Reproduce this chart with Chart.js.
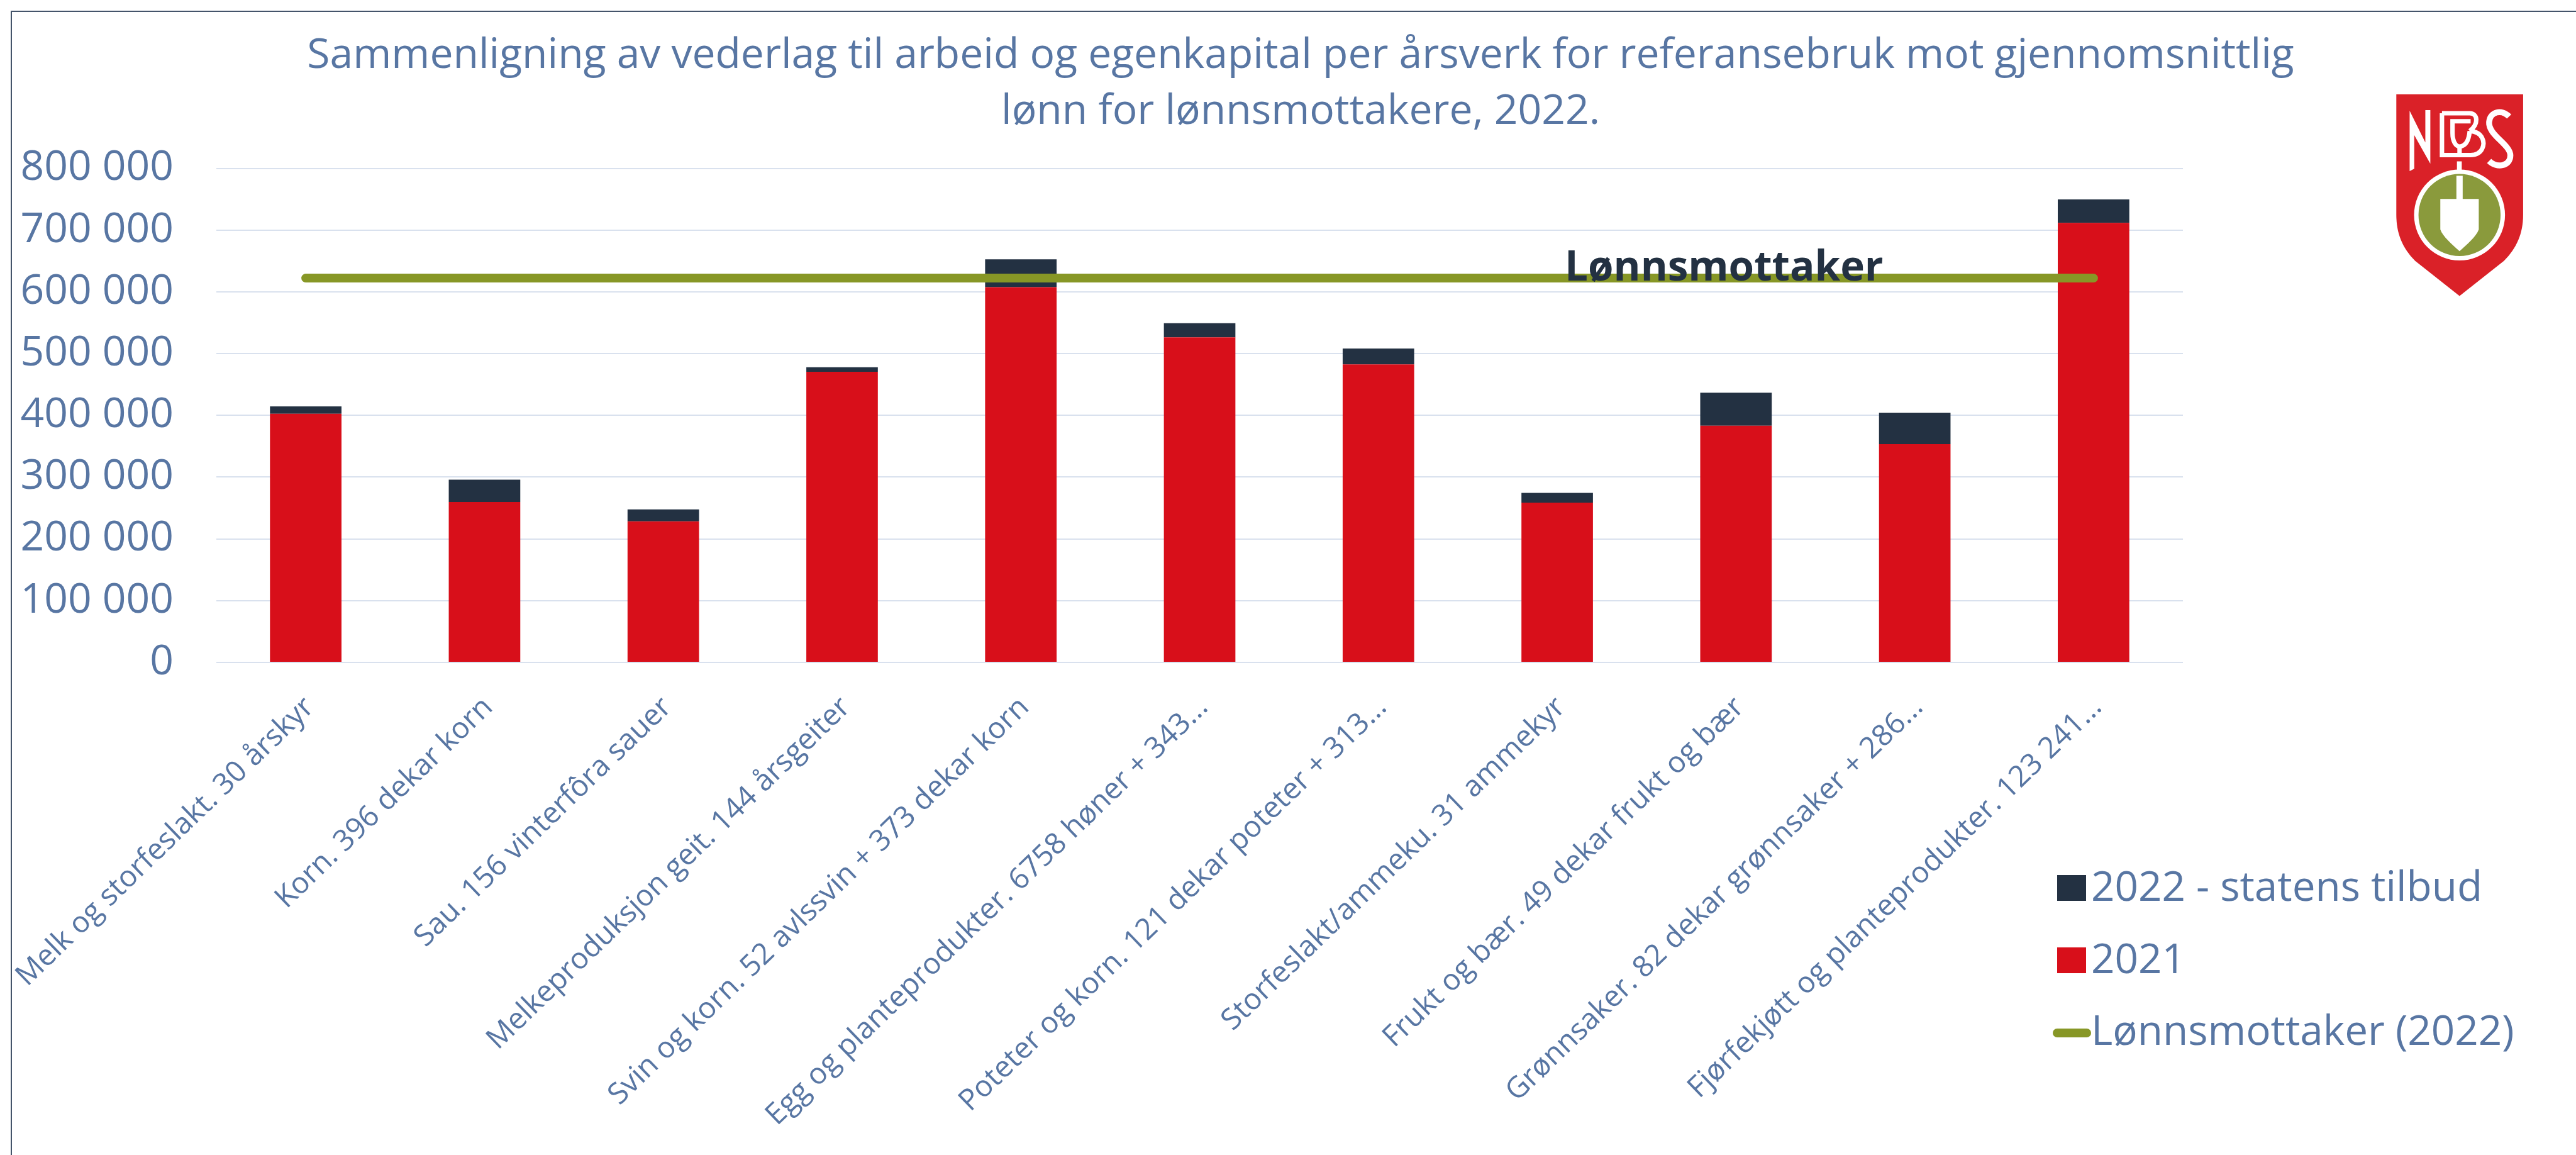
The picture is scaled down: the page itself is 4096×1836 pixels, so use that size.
<!DOCTYPE html>
<html>
<head>
<meta charset="utf-8">
<title>Vederlag per årsverk</title>
<script src="https://cdn.jsdelivr.net/npm/chart.js@4"></script>
<style>
    html, body { margin: 0; padding: 0; background: #fff; overflow: hidden; }
    #wrap { position: relative; width: 4096px; height: 1836px; }
    #frameTop { position: absolute; left: 17px; top: 17px; right: 0; height: 2px; background: #44546a; }
    #frameLeft { position: absolute; left: 17px; top: 17px; bottom: 0; width: 2px; background: #44546a; }
    #logo { position: absolute; left: 3708px; top: 88px; width: 388px; height: 424px; }
    canvas { position: absolute; left: 0; top: 0; }
</style>
</head>
<body>
<div id="wrap">
    <canvas id="chart" width="4096" height="1836"></canvas>
    <div id="frameTop"></div>
    <div id="frameLeft"></div>
    <svg id="logo" viewBox="0 0 1320 1440">
        <path d="M348 210 H1034 V860 C1034 960 1000 1040 930 1110 L690 1300 L450 1110 C380 1040 348 960 348 860 Z" fill="#da2128"/>
        <circle cx="690" cy="862" r="246" fill="#fff"/>
        <circle cx="690" cy="862" r="222" fill="#8a9a3c"/>
        <rect x="676" y="572" width="26" height="60" fill="#fff"/>
        <rect x="673" y="650" width="34" height="130" fill="#fff"/>
        <path d="M586 775 H794 V940 C780 980 730 1020 690 1058 C650 1020 600 980 586 940 Z" fill="#fff"/>
        <path d="M420 298 L505 470 V295 H532 V585 L445 430 V612 L420 625 Z" fill="#fff"/>
        <g fill="none" stroke="#fff" stroke-width="24">
            <path d="M595 312 V538 H750 C815 538 830 480 812 445 C800 420 775 410 745 408"/>
            <path d="M595 312 H745 C790 312 795 370 745 408"/>
            <path d="M750 355 H652 V420 C652 465 670 490 690 492 C720 490 740 465 745 408"/>
            <path d="M690 492 V538"/>
        </g>
        <path d="M958 330 C920 290 855 300 850 360 C845 430 965 480 965 540 C965 600 890 610 850 570" fill="none" stroke="#fff" stroke-width="32"/>
    </svg>
</div>

<script>
    var titleLines = [
        "Sammenligning av vederlag til arbeid og egenkapital per årsverk for referansebruk mot gjennomsnittlig",
        "lønn for lønnsmottakere, 2022."
    ];
    var categories = [
        "Melk og storfeslakt. 30 årskyr",
        "Korn. 396 dekar korn",
        "Sau. 156 vinterfôra sauer",
        "Melkeproduksjon geit. 144 årsgeiter",
        "Svin og korn. 52 avlssvin + 373 dekar korn",
        "Egg og planteprodukter. 6758 høner + 343...",
        "Poteter og korn. 121 dekar poteter + 313...",
        "Storfeslakt/ammeku. 31 ammekyr",
        "Frukt og bær. 49 dekar frukt og bær",
        "Grønnsaker. 82 dekar grønnsaker + 286...",
        "Fjørfekjøtt og planteprodukter. 123 241..."
    ];
    var values2021 = [402600, 259700, 228400, 470600, 607500, 526200, 482500, 258700, 383300, 353400, 711800];
    var values2022Offer = [11900, 36300, 19300, 7400, 45100, 23000, 25800, 15700, 53300, 51000, 37800];
    var wageEarner = [622200, 622200, 622200, 622200, 622200, 622200, 622200, 622200, 622200, 622200, 622200];

    var textColor = "#5876a3";
    var darkColor = "#233142";
    var redColor = "#d80f1a";
    var oliveColor = "#879726";
    var fontName = "'Open Sans'";

    // legend sits below the plot's right edge, so it is drawn here and not by the legend box
    var extras = {
        id: "extras",
        afterLayout: function(chart) {
            chart.titleBlock.left = 40;
            chart.titleBlock.right = 4096;
        },
        afterDraw: function(chart) {
            var ctx = chart.ctx;
            var sets = chart.data.datasets;
            var rows = [
                { set: sets[2], base: 1432 },
                { set: sets[1], base: 1547 },
                { set: sets[0], base: 1661 }
            ];
            ctx.save();
            ctx.textBaseline = "alphabetic";
            ctx.textAlign = "left";
            ctx.font = "65.6px " + fontName;
            rows.forEach(function(row) {
                if (row.set.type === "line") {
                    ctx.strokeStyle = row.set.borderColor;
                    ctx.lineWidth = 14;
                    ctx.lineCap = "round";
                    ctx.beginPath();
                    ctx.moveTo(3271, row.base - 19);
                    ctx.lineTo(3318, row.base - 19);
                    ctx.stroke();
                } else {
                    ctx.fillStyle = row.set.backgroundColor;
                    ctx.fillRect(3271, row.base - 41, 46, 41);
                }
                ctx.fillStyle = textColor;
                ctx.fillText(row.set.label, 3325, row.base);
            });

            // label on the wage earner line
            var x = chart.scales.x.getPixelForValue(7) + 12;
            var y = chart.scales.y.getPixelForValue(wageEarner[7]) + 4;
            ctx.font = "bold 65.5px " + fontName;
            ctx.fillStyle = darkColor;
            ctx.fillText("Lønnsmottaker", x, y);
            ctx.restore();
        }
    };

    new Chart(document.getElementById("chart").getContext("2d"), {
        type: "bar",
        data: {
            labels: categories,
            datasets: [
                {
                    type: "line",
                    label: "Lønnsmottaker (2022)",
                    data: wageEarner,
                    borderColor: oliveColor,
                    borderWidth: 14,
                    borderCapStyle: "round",
                    pointRadius: 0,
                    order: 0
                },
                {
                    type: "bar",
                    label: "2021",
                    data: values2021,
                    backgroundColor: redColor,
                    barPercentage: 0.4,
                    categoryPercentage: 1,
                    order: 1
                },
                {
                    type: "bar",
                    label: "2022 - statens tilbud",
                    data: values2022Offer,
                    backgroundColor: darkColor,
                    barPercentage: 0.4,
                    categoryPercentage: 1,
                    order: 1
                }
            ]
        },
        options: {
            responsive: false,
            animation: false,
            events: [],
            layout: { padding: { left: 0, right: 625, top: 0, bottom: 0 } },
            plugins: {
                legend: { display: false },
                tooltip: { enabled: false },
                title: {
                    display: true,
                    text: titleLines,
                    color: textColor,
                    font: { family: fontName, size: 66, weight: "normal", lineHeight: 1.345 },
                    padding: { top: 45, bottom: 45 }
                }
            },
            scales: {
                x: {
                    stacked: true,
                    grid: { display: false },
                    border: { display: false },
                    afterFit: function(scale) {
                        // long rotated labels must not push the plot area in
                        scale.height = 783;
                        scale.paddingLeft = 0;
                        scale.paddingRight = 0;
                    },
                    ticks: {
                        autoSkip: false,
                        minRotation: 44,
                        maxRotation: 44,
                        padding: 36,
                        labelOffset: 6,
                        color: textColor,
                        font: { family: fontName, size: 46.8 }
                    }
                },
                y: {
                    stacked: true,
                    min: 0,
                    max: 800000,
                    grid: { color: "#d9e1ee", lineWidth: 2, drawTicks: false },
                    border: { display: false },
                    afterFit: function(scale) { scale.width = 344; },
                    ticks: {
                        stepSize: 100000,
                        padding: 68,
                        color: textColor,
                        font: { family: fontName, size: 66 },
                        callback: function(value) {
                            return String(value).replace(/\B(?=(\d{3})+$)/g, " ");
                        }
                    }
                }
            }
        },
        plugins: [extras]
    });
</script>
</body>
</html>
